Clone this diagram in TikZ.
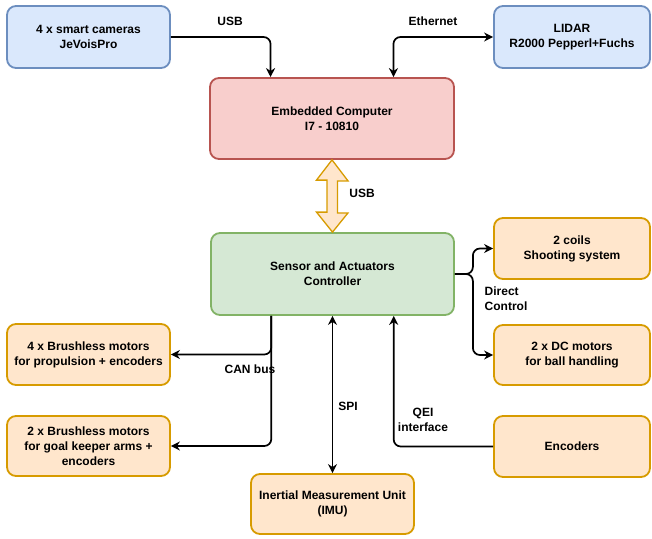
\documentclass[tikz,border=0pt]{standalone}
\usepackage{fontspec}
\setmainfont{Liberation Sans}
\usetikzlibrary{arrows.meta,calc}

\definecolor{blueFill}{HTML}{DAE8FC}
\definecolor{blueLine}{HTML}{6C8EBF}
\definecolor{redFill}{HTML}{F8CECC}
\definecolor{redLine}{HTML}{B85450}
\definecolor{greenFill}{HTML}{D5E8D4}
\definecolor{greenLine}{HTML}{82B366}
\definecolor{orangeFill}{HTML}{FFE6CC}
\definecolor{orangeLine}{HTML}{D79B00}

\tikzset{
	txt/.style={font=\bfseries\fontsize{12}{15}\selectfont,align=center,inner sep=0pt},
	box/.style={txt,draw,line width=1.8pt,rounded corners=9pt},
	bluebox/.style={box,fill=blueFill,draw=blueLine},
	redbox/.style={box,fill=redFill,draw=redLine},
	greenbox/.style={box,fill=greenFill,draw=greenLine},
	orangebox/.style={box,fill=orangeFill,draw=orangeLine},
	link/.style={line width=1.7pt,rounded corners=7pt,-{Stealth[length=9pt,width=9pt]}},
	dlink/.style={link,{Stealth[length=9pt,width=9pt]}-{Stealth[length=9pt,width=9pt]}},
}

\begin{document}
\begin{tikzpicture}[x=1pt,y=-1pt]

	\useasboundingbox (0,0) rectangle (652,538);
%	\draw[step=10,gray,very thin] (0,0) grid (652,538);

	\node[bluebox,minimum width=163,minimum height=62] (cams) at (88.5,37) {4 x smart cameras\\JeVoisPro};
	\node[bluebox,minimum width=156,minimum height=62] (lidar) at (572,37) {LIDAR\\R2000 Pepperl+Fuchs};
	\node[redbox,minimum width=244,minimum height=81] (pc) at (332,118.5) {Embedded Computer\\I7 - 10810};
	\node[greenbox,minimum width=243,minimum height=82] (ctrl) at (332.5,274) {Sensor and Actuators\\Controller};

	\node[orangebox,minimum width=156,minimum height=61] (coils) at (572,248.5) {2 coils\\Shooting system};
	\node[orangebox,minimum width=156,minimum height=60] (dcmot) at (572,355) {2 x DC motors\\for ball handling};
	\node[orangebox,minimum width=156,minimum height=61] (enc) at (572,446.5) {Encoders};
	\node[orangebox,minimum width=163,minimum height=61] (bldc) at (88.5,354.5) {4 x Brushless motors\\for propulsion + encoders};
	\node[orangebox,minimum width=163,minimum height=60] (keeper) at (88.5,446) {2 x Brushless motors\\for goal keeper arms +\\encoders};
	\node[orangebox,minimum width=163,minimum height=60] (imu) at (332.5,504) {Inertial Measurement Unit\\(IMU)};

	% quarter points on the long boxes
	\coordinate (pcA) at ($(pc.north)!.5!(pc.north west)$);
	\coordinate (pcB) at ($(pc.north)!.5!(pc.north east)$);
	\coordinate (ctrlA) at ($(ctrl.south)!.5!(ctrl.south west)$);
	\coordinate (ctrlB) at ($(ctrl.south)!.5!(ctrl.south east)$);

	\draw[link] (cams.east) -| (pcA);
	\node[txt] (usbA) at (230,21) {USB};
	\draw[dlink] (lidar.west) -| (pcB);
	\node[txt] (eth) at (433,21) {Ethernet};

	\draw[line width=1.3pt,line join=miter,fill=orangeFill,draw=orangeLine] (pc.south) -- ++(16,21) -- ++(-10.5,0) -- ++(0,32) -- ++(10.5,0) -- (ctrl.north) -- ++(-16,-20) -- ++(10.5,0) -- ++(0,-32) -- ++(-10.5,0) -- cycle;
	\node[txt] (usbB) at (362,193) {USB};

	\draw[link] (ctrl.east) -- ++(18,0) |- (coils.west);
	\draw[link] (ctrl.east) -- ++(18,0) |- (dcmot.west);
	\node[txt,align=left] (direct) at (506,299) {Direct\\Control};

	\draw[link] (ctrlA) |- (bldc.east);
	\draw[link] (ctrlA) |- (keeper.east);
	\node[txt] (can) at (250,369) {CAN bus};

	\draw[dlink] (ctrl.south) -- (imu.north);
	\node[txt] (spi) at (348,406) {SPI};

	\draw[link] (enc.west) -| (ctrlB);
	\node[txt] (qei) at (423,420) {QEI\\interface};

\end{tikzpicture}
\end{document}
